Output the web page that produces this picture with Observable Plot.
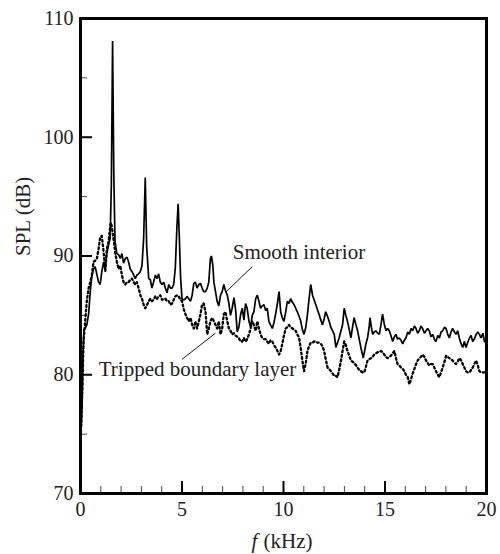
<!DOCTYPE html>
<html>
<head>
<meta charset="utf-8">
<script src="https://cdn.jsdelivr.net/npm/d3@7"></script>
<script src="https://cdn.jsdelivr.net/npm/@observablehq/plot@0.6"></script>
<style>
  html, body { margin: 0; padding: 0; background: #fff; }
</style>
</head>
<body>
<div id="chart"></div>
<script>
// Smooth interior (solid): frequency (kHz) and SPL (dB)
const solidF = [0,0.04,0.08,0.12,0.17,0.23,0.31,0.40,0.48,0.56,0.64,0.72,0.80,0.89,0.97,1.05,1.14,1.22,1.30,1.38,1.46,1.52,1.58,1.64,1.70,1.79,1.88,1.96,2.04,2.12,2.21,2.29,2.37,2.45,2.53,2.62,2.70,2.78,2.86,2.95,3.03,3.11,3.19,3.26,3.36,3.44,3.52,3.60,3.69,3.77,3.85,3.93,4.02,4.10,4.18,4.26,4.35,4.43,4.51,4.59,4.67,4.75,4.81,4.87,4.93,5.00,5.09,5.17,5.25,5.33,5.42,5.50,5.58,5.66,5.74,5.83,5.91,5.99,6.07,6.16,6.24,6.32,6.40,6.45,6.52,6.57,6.65,6.73,6.81,6.90,6.98,7.06,7.14,7.23,7.31,7.39,7.47,7.56,7.64,7.72,7.80,7.89,7.97,8.05,8.13,8.21,8.30,8.38,8.46,8.54,8.63,8.71,8.79,8.87,8.95,9.04,9.12,9.20,9.28,9.36,9.45,9.53,9.61,9.70,9.78,9.86,9.94,10.02,10.11,10.19,10.27,10.35,10.44,10.52,10.60,10.68,10.77,10.85,10.93,11.01,11.10,11.18,11.26,11.34,11.43,11.51,11.59,11.67,11.75,11.84,11.92,12.00,12.08,12.17,12.25,12.33,12.42,12.50,12.58,12.66,12.74,12.83,12.91,12.99,13.07,13.15,13.24,13.32,13.40,13.48,13.57,13.65,13.73,13.81,13.93,14.06,14.14,14.22,14.26,14.33,14.39,14.47,14.55,14.64,14.72,14.80,14.88,14.96,15.05,15.13,15.21,15.29,15.38,15.46,15.54,15.62,15.70,15.79,15.87,15.95,16.03,16.12,16.20,16.28,16.36,16.45,16.53,16.61,16.69,16.77,16.85,16.94,17.02,17.10,17.18,17.27,17.35,17.43,17.51,17.60,17.68,17.76,17.84,17.93,18.01,18.09,18.17,18.25,18.33,18.42,18.50,18.58,18.66,18.75,18.83,18.91,18.99,19.07,19.16,19.24,19.32,19.40,19.49,19.57,19.65,19.73,19.82,19.90,20.0];
const solidV = [76.0,75.6,77.8,81.5,83.8,83.9,84.2,85.1,87.0,88.3,88.9,89.1,88.5,87.8,87.6,88.7,89.5,88.8,90.3,90.9,91.5,96,108.1,97,91.2,90.2,90.1,89.8,90.2,89.4,89.8,89.9,89.5,88.9,88.7,88.4,88.1,88.4,88.5,88.7,89.2,91.5,96.6,90.8,88.1,88.0,87.3,87.8,88.4,88.1,88.5,87.8,87.6,87.8,87.3,86.9,87.6,87.3,87.3,87.6,89.0,92.5,94.4,91.5,88.2,86.4,86.3,86.4,86.6,86.4,86.2,86.7,87.7,87.8,87.3,87.6,87.7,87.3,87.0,87.0,87.3,87.8,89.8,90.0,89.2,87.8,87.0,86.2,85.8,86.7,87.0,87.6,87.1,86.7,86.0,85.0,85.6,86.5,85.5,83.6,84.0,85.1,85.6,84.6,86.0,85.6,84.5,84.0,85.0,85.3,86.4,86.7,86.2,85.6,85.8,85.9,85.4,85.6,84.5,84.2,83.9,84.4,85.1,86.0,87.0,85.3,84.8,84.5,85.3,86.2,86.0,86.4,86.1,85.9,85.6,85.3,84.9,84.5,83.8,83.4,84.0,85.1,86.4,87.6,86.7,86.3,85.9,85.5,85.1,84.6,84.2,84.7,85.3,84.9,84.5,84.0,83.7,83.4,82.3,82.7,83.1,83.7,84.2,85.6,85.0,84.5,83.8,83.1,84.0,84.8,84.2,83.7,83.0,82.3,81.4,82.6,83.1,84.0,84.8,84.0,83.4,83.6,83.7,83.5,83.4,84.2,85.1,84.3,83.7,83.9,83.7,83.3,82.8,83.2,83.4,83.0,83.1,82.9,82.6,82.9,83.1,83.6,83.4,83.9,83.7,84.1,83.9,83.5,83.7,84.1,83.9,83.5,83.7,83.9,83.7,83.2,83.4,83.0,82.8,83.3,83.1,83.6,83.7,84.0,83.9,83.4,83.1,83.6,83.9,83.6,83.4,83.7,83.1,82.6,82.3,82.8,82.3,82.7,83.1,83.3,82.8,83.0,83.4,83.6,83.4,83.1,83.5,82.8,82.7];

// Tripped boundary layer (dotted): frequency (kHz) and SPL (dB)
const dottedF = [0,0.05,0.10,0.15,0.23,0.31,0.40,0.48,0.56,0.64,0.72,0.81,0.89,0.97,1.05,1.14,1.22,1.30,1.38,1.47,1.51,1.58,1.63,1.71,1.79,1.88,1.96,2.04,2.12,2.21,2.29,2.37,2.45,2.53,2.62,2.70,2.78,2.86,2.95,3.03,3.11,3.19,3.28,3.36,3.44,3.52,3.60,3.69,3.77,3.85,3.93,4.02,4.10,4.18,4.26,4.35,4.43,4.51,4.59,4.67,4.76,4.84,4.92,5.00,5.09,5.17,5.25,5.33,5.42,5.50,5.58,5.66,5.74,5.83,5.91,5.99,6.07,6.16,6.24,6.32,6.40,6.49,6.57,6.65,6.73,6.81,6.90,6.98,7.06,7.14,7.23,7.31,7.39,7.47,7.56,7.64,7.72,7.80,7.88,7.97,8.05,8.13,8.21,8.30,8.38,8.46,8.54,8.63,8.71,8.79,8.87,8.95,9.04,9.12,9.20,9.28,9.36,9.45,9.53,9.61,9.70,9.78,9.86,9.94,10.02,10.11,10.19,10.27,10.35,10.44,10.52,10.60,10.68,10.77,10.85,10.93,11.01,11.10,11.18,11.26,11.34,11.43,11.51,11.59,11.67,11.75,11.84,11.92,12.00,12.08,12.17,12.25,12.33,12.42,12.50,12.58,12.66,12.74,12.83,12.91,12.99,13.07,13.15,13.24,13.32,13.40,13.48,13.57,13.65,13.73,13.81,13.90,13.98,14.06,14.14,14.22,14.31,14.39,14.47,14.55,14.64,14.72,14.80,14.88,14.96,15.05,15.13,15.21,15.29,15.38,15.46,15.54,15.62,15.70,15.79,15.87,15.95,16.03,16.12,16.20,16.28,16.36,16.45,16.53,16.61,16.69,16.77,16.85,16.94,17.02,17.10,17.18,17.27,17.35,17.43,17.51,17.60,17.68,17.76,17.84,17.93,18.01,18.09,18.17,18.25,18.33,18.42,18.50,18.58,18.66,18.75,18.83,18.91,18.99,19.07,19.16,19.24,19.32,19.40,19.49,19.57,19.65,19.73,19.82,19.90,20.0];
const dottedV = [74.5,76.5,79.5,82.8,84.5,86.2,87.3,87.8,88.4,89.5,89.6,89.8,90.6,91.6,91.7,90.3,88.7,90.6,91.2,92.6,92.8,92.0,91.4,90.3,89.5,88.9,89.2,88.4,87.8,87.6,87.8,87.8,88.0,88.1,87.8,87.6,87.8,87.3,86.7,86.4,85.9,85.6,85.9,86.2,86.4,86.2,86.3,86.6,86.4,86.6,86.7,86.3,86.4,86.4,86.2,86.2,85.9,86.0,86.3,86.6,86.7,86.6,86.3,86.2,85.5,85.1,84.8,84.5,84.8,84.2,83.9,84.5,83.9,84.5,85.1,85.9,86.0,85.3,83.4,83.9,84.5,84.8,84.5,84.2,83.9,84.5,83.4,83.9,85.1,85.3,84.5,83.9,83.7,83.4,83.5,83.3,83.2,83.1,82.8,82.8,83.1,82.8,83.0,83.4,83.9,84.5,84.2,83.7,84.5,83.9,83.4,83.1,83.0,83.0,82.8,82.6,82.9,82.8,82.5,82.3,82.0,81.7,82.0,82.6,83.3,83.9,84.0,84.2,84.0,83.9,83.8,83.7,83.4,83.1,82.2,81.2,80.3,81.0,82.0,82.4,82.7,82.7,82.8,82.8,82.7,82.7,82.6,82.4,82.0,81.3,80.6,80.5,80.3,80.1,79.9,79.9,79.8,80.4,81.2,82.0,82.8,82.5,82.0,81.6,81.2,81.1,81.0,80.8,80.6,80.4,80.3,80.2,80.2,80.7,81.2,81.3,81.4,81.5,81.7,81.8,81.9,81.9,82.0,81.9,81.7,81.5,81.4,81.5,81.6,81.8,82.0,81.4,80.9,80.8,80.6,80.5,80.3,80.0,79.8,79.2,79.6,80.1,80.5,80.9,81.2,81.4,81.5,81.7,81.5,81.2,81.0,80.8,80.9,80.9,80.6,80.3,80.0,79.8,80.2,80.6,81.1,81.6,81.5,81.4,81.3,81.2,81.0,80.9,81.1,81.4,81.2,80.9,80.6,80.3,80.2,80.2,80.4,80.6,80.9,81.2,80.8,80.3,80.2,80.2,80.2,80.2,80.5];

// Axis ticks
const xMajor = [0, 5, 10, 15, 20];
const xMinor = [1, 2, 3, 4, 6, 7, 8, 9, 11, 12, 13, 14, 16, 17, 18, 19];
const yMajor = [70, 80, 90, 100, 110];
const yMinor = [75, 85, 95, 105];

// Annotations (label text, anchor point in data units, leader line ends)
const labelText = ["Smooth interior", "Tripped boundary layer"];
const labelF = [7.5, 0.9];
const labelV = [90.3, 80.5];
const leaderF1 = [8.46, 5.0];
const leaderV1 = [89.1, 81.3];
const leaderF2 = [7.18, 6.65];
const leaderV2 = [87.0, 83.5];

const solid = solidF.map((f, i) => ({f, v: solidV[i]}));
const dotted = dottedF.map((f, i) => ({f, v: dottedV[i]}));
const labels = labelText.map((t, i) => ({t, f: labelF[i], v: labelV[i]}));
const leaders = leaderF1.map((f1, i) => ({f1, v1: leaderV1[i], f2: leaderF2[i], v2: leaderV2[i]}));

const W = 500, H = 554, mL = 80, mR = 14, mT = 18, mB = 61;
const innerW = W - mL - mR, innerH = H - mT - mB;
const ink = "#222";

const chart = Plot.plot({
  width: W, height: H,
  marginLeft: mL, marginRight: mR, marginTop: mT, marginBottom: mB,
  style: {fontFamily: "'Liberation Serif', 'Times New Roman', serif", fontSize: "20px", color: ink, background: "#fff"},
  x: {domain: [0, 20]},
  y: {domain: [70, 110]},
  marks: [
    Plot.axisX(xMajor, {tickSize: 0, tickPadding: 8, label: null, fill: ink}),
    Plot.axisY(yMajor, {tickSize: 0, tickPadding: 7, label: null, fill: ink}),
    Plot.tickX(xMinor, {x: d => d, insetTop: innerH - 7, stroke: "#444", strokeWidth: 1}),
    Plot.tickX(xMajor, {x: d => d, insetTop: innerH - 12, stroke: "#000", strokeWidth: 2}),
    Plot.tickY(yMinor, {y: d => d, insetRight: innerW - 7, stroke: "#444", strokeWidth: 1}),
    Plot.tickY(yMajor, {y: d => d, insetRight: innerW - 12, stroke: "#000", strokeWidth: 2}),
    Plot.line(dotted, {x: "f", y: "v", stroke: "#000", strokeWidth: 2.3, strokeDasharray: "1.8,2.8"}),
    Plot.line(solid, {x: "f", y: "v", stroke: "#000", strokeWidth: 1.7, strokeLinejoin: "miter"}),
    Plot.link(leaders, {x1: "f1", y1: "v1", x2: "f2", y2: "v2", stroke: "#000", strokeWidth: 0.9}),
    Plot.text(labels, {x: "f", y: "v", text: "t", textAnchor: "start", fill: ink, fontSize: 21}),
    Plot.text(["SPL (dB)"], {frameAnchor: "left", rotate: -90, dx: -57, fill: ink, fontSize: 21}),
    Plot.text(["f"], {frameAnchor: "bottom", lineAnchor: "middle", dy: 48, dx: -29, fontStyle: "italic", fill: ink, fontSize: 21}),
    Plot.text(["(kHz)"], {frameAnchor: "bottom", lineAnchor: "middle", textAnchor: "start", dy: 48, dx: -20, fill: ink, fontSize: 21}),
    Plot.frame({stroke: "#000", strokeWidth: 3})
  ]
});
document.getElementById("chart").appendChild(chart);
</script>
</body>
</html>
